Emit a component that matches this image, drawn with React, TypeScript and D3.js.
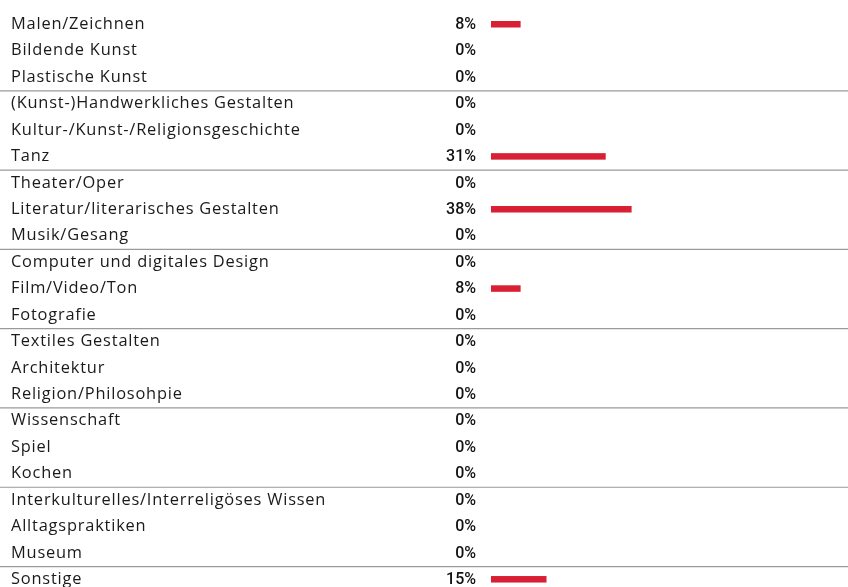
import * as d3 from "d3";
import React, { useRef, useEffect } from "react";

// categories, top to bottom
const categories = [
  "Malen/Zeichnen",
  "Bildende Kunst",
  "Plastische Kunst",
  "(Kunst-)Handwerkliches Gestalten",
  "Kultur-/Kunst-/Religionsgeschichte",
  "Tanz",
  "Theater/Oper",
  "Literatur/literarisches Gestalten",
  "Musik/Gesang",
  "Computer und digitales Design",
  "Film/Video/Ton",
  "Fotografie",
  "Textiles Gestalten",
  "Architektur",
  "Religion/Philosohpie",
  "Wissenschaft",
  "Spiel",
  "Kochen",
  "Interkulturelles/Interreligöses Wissen",
  "Alltagspraktiken",
  "Museum",
  "Sonstige",
];

// percent values per category
const values = [8, 0, 0, 0, 0, 31, 0, 38, 0, 0, 8, 0, 0, 0, 0, 0, 0, 0, 0, 0, 0, 15];

// a gray rule sits above every third row
const groupSize = 3;

function App() {
  const svgRef = useRef<SVGSVGElement>(null);

  useEffect(() => {
    const width = 848;
    const height = 587;
    const svg = d3.select(svgRef.current);
    svg.selectAll("*").remove();

    const rowH = 26.43;
    const top = 11.5;

    // one band per row
    const y = d3
      .scaleBand<string>()
      .domain(categories)
      .range([top, top + rowH * categories.length])
      .padding(0);

    // bar length, same scale for all rows
    const x = d3.scaleLinear().domain([0, 100]).range([491, 861]);

    const rows = svg
      .selectAll("g.row")
      .data(categories)
      .enter()
      .append("g")
      .attr("class", "row")
      .attr("transform", (d) => `translate(0, ${y(d)})`);

    // separator lines
    rows
      .filter((d, i) => i > 0 && i % groupSize === 0)
      .append("line")
      .attr("x1", 0)
      .attr("x2", width)
      .attr("y1", 0)
      .attr("y2", 0)
      .attr("stroke", "#9a9a9a")
      .attr("stroke-width", 1.2);

    rows
      .append("text")
      .attr("x", 11)
      .attr("y", 17.5)
      .attr("font-family", "'Open Sans', sans-serif")
      .attr("font-size", 16.4)
      .attr("letter-spacing", 0.8)
      .attr("fill", "#1a1a1a")
      .text((d) => d);

    rows
      .append("text")
      .attr("x", 476)
      .attr("y", 17.5)
      .attr("text-anchor", "end")
      .attr("font-family", "Roboto, sans-serif")
      .attr("font-size", 16)
      .attr("font-weight", 500)
      .attr("fill", "#111")
      .text((d, i) => `${values[i]}%`);

    rows
      .filter((d, i) => values[i] > 0)
      .append("rect")
      .attr("x", x(0))
      .attr("y", 9.5)
      .attr("height", 6.5)
      .attr("width", (d) => x(values[categories.indexOf(d)]) - x(0))
      .attr("fill", "#d91f34");

    svg.attr("width", width).attr("height", height);
  });

  return (
    <div style={{ position: "fixed", left: 0, top: 0, width: 848, height: 587, overflow: "hidden" }}>
      <svg ref={svgRef} style={{ display: "block" }} />
    </div>
  );
}

export default App;
